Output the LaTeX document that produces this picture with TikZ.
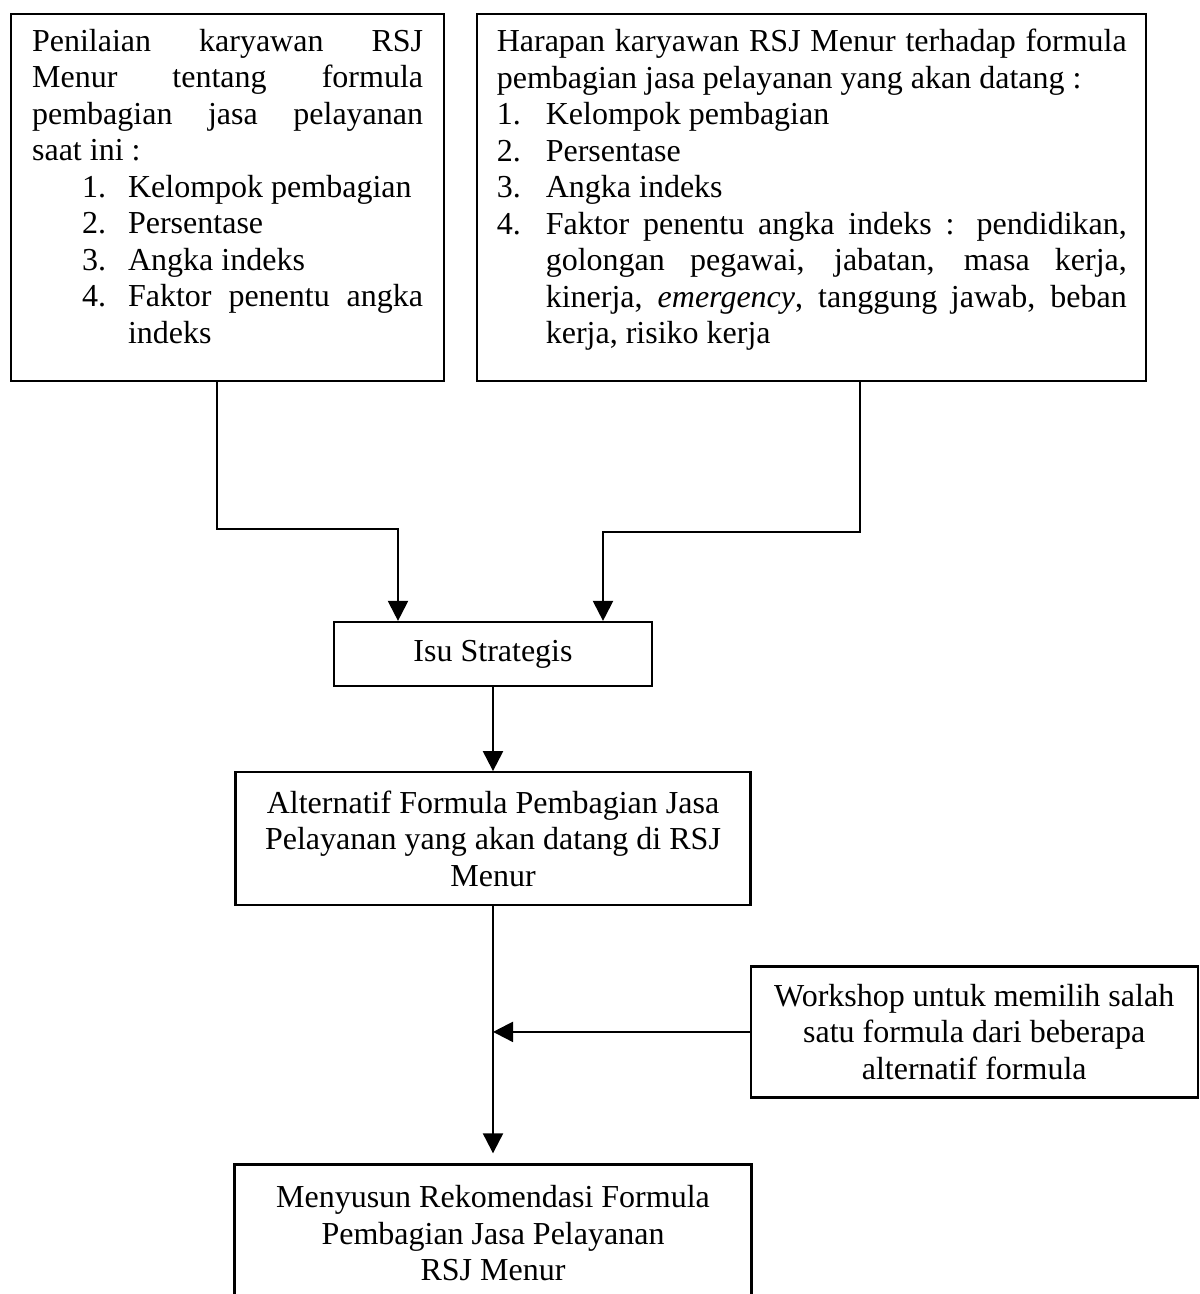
\documentclass[tikz,border=0pt]{standalone}
\usepackage{fontspec}
\setmainfont{Liberation Serif}
\usepackage{tikz}
\usetikzlibrary{positioning,arrows.meta}

\setlength{\parindent}{0pt}
\hyphenpenalty=10000
\exhyphenpenalty=10000
\tolerance=9999
\hbadness=10000

% numbered lines inside the two top boxes
\newcommand{\butirA}[2]{\par\hangindent=48pt\hangafter=1\noindent\hspace*{25pt}\makebox[23pt][l]{#1}#2}
\newcommand{\butirB}[2]{\par\hangindent=24.5pt\hangafter=1\noindent\makebox[24.5pt][l]{#1}#2}

\begin{document}
\begin{tikzpicture}[node distance=20pt, font=\fontsize{16}{18.25}\selectfont]
    \tikzstyle{listbox} = [draw, line width=1.1pt, align=justify, inner ysep=7.5pt, anchor=north west]
    \tikzstyle{box} = [draw, line width=1.1pt, align=center, inner sep=4pt]
    \tikzstyle{flow} = [line width=1.1pt, -{Triangle[length=10pt,width=10pt]}]

    \useasboundingbox (0,0) rectangle (599.5pt,-647pt);

    % Penilaian box
    \node[listbox, text width=195.5pt, inner xsep=10.5pt] (penilaian) at (5pt,-6.5pt) {%
        Penilaian karyawan RSJ\linebreak Menur tentang formula\linebreak pembagian jasa pelayanan\linebreak saat ini :
        \butirA{1.}{Kelompok pembagian}
        \butirA{2.}{Persentase}
        \butirA{3.}{Angka indeks}
        \butirA{4.}{Faktor penentu angka indeks\rule[-11.5pt]{0pt}{11.5pt}}\par
    };

    % Harapan box
    \node[listbox, text width=315pt, inner xsep=9.75pt, right=15.5pt of penilaian.north east, anchor=north west] (harapan) {%
        Harapan karyawan RSJ Menur terhadap formula pembagian jasa pelayanan yang akan datang :
        \butirB{1.}{Kelompok pembagian}
        \butirB{2.}{Persentase}
        \butirB{3.}{Angka indeks}
        \butirB{4.}{Faktor penentu angka indeks~: pendidikan,\linebreak golongan pegawai, jabatan, masa kerja,\linebreak kinerja, \emph{emergency}, tanggung jawab, beban\linebreak kerja, risiko kerja\rule[-11pt]{0pt}{11pt}}\par
    };

    % Isu Strategis
    \node[box, minimum width=159pt, minimum height=32pt] (isu) at (246.5pt,-327pt) {Isu Strategis};

    % Alternatif formula
    \node[box, minimum width=257.5pt, minimum height=66.5pt, below=42pt of isu] (alternatif) {
        Alternatif Formula Pembagian Jasa\\
        Pelayanan yang akan datang di RSJ\\
        Menur
    };

    % Workshop
    \node[box, minimum width=223.5pt, minimum height=65.5pt, below=29.5pt of alternatif.south east, anchor=north west, xshift=-1pt] (workshop) {
        Workshop untuk memilih salah\\
        satu formula dari beberapa\\
        alternatif formula
    };

    % Rekomendasi
    \node[box, minimum width=258.5pt, minimum height=69pt, below=128.5pt of alternatif] (rekomendasi) {
        Menyusun Rekomendasi Formula\\
        Pembagian Jasa Pelayanan\\
        RSJ Menur
    };

    \draw[flow] ([xshift=-5.25pt]penilaian.south) |- ([xshift=-47.5pt,yshift=46pt]isu.north) -- ([xshift=-47.5pt]isu.north);
    \draw[flow] ([xshift=24.25pt]harapan.south) |- ([xshift=55pt,yshift=44.5pt]isu.north) -- ([xshift=55pt]isu.north);
    \draw[flow] (isu) -- (alternatif);
    \draw[flow, shorten >=5pt] (alternatif) -- (rekomendasi);
    \draw[flow] (workshop.west) -- (workshop.west -| alternatif.south);

\end{tikzpicture}
\end{document}
